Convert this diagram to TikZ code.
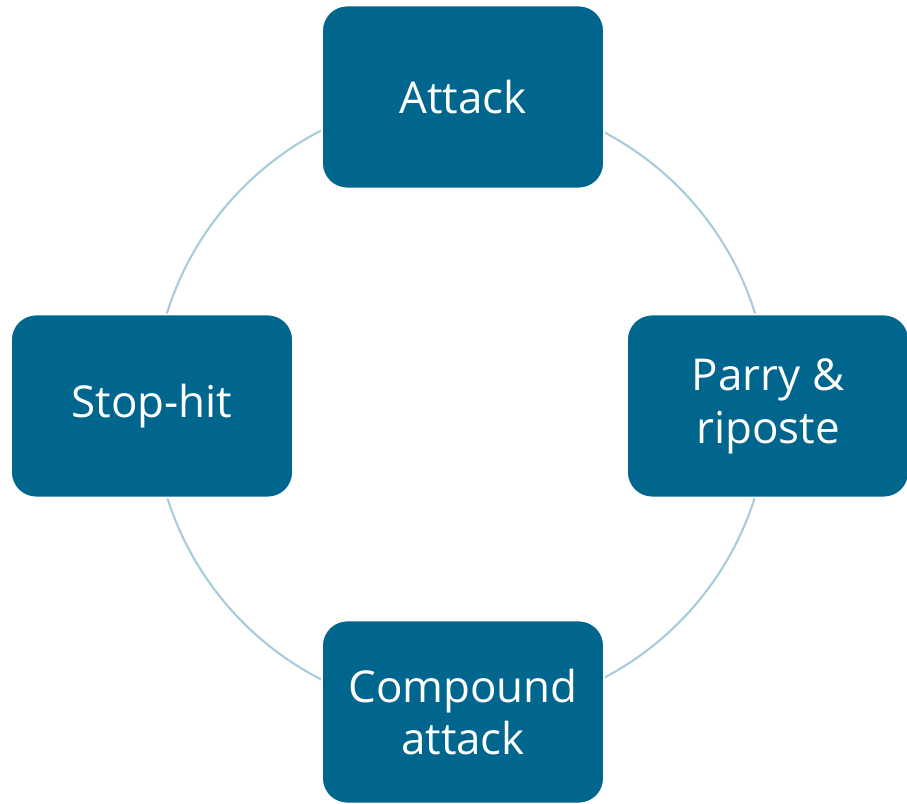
\documentclass[tikz,border=0pt]{standalone}
\usepackage{fontspec}
\setmainfont{Open Sans}
\definecolor{boxblue}{HTML}{00668E}
\definecolor{ringblue}{HTML}{A8CCDC}
\begin{document}
\begin{tikzpicture}[x=0.02cm,y=-0.02cm,
  stage/.style={fill=boxblue, draw=white, line width=1pt, rounded corners=0.5cm,
    text=white, align=center, font=\fontsize{25}{30}\selectfont,
    minimum width=5.64cm, minimum height=3.66cm, inner sep=0pt}]
\useasboundingbox (0,0) rectangle (907,804);
\coordinate (ctr) at (461,405);
\draw[ringblue, line width=1.2pt] (ctr) circle[radius=6.16cm];
\node[stage] (attack) at (463,97) {Attack};
\node[stage] (parry) at (768,406) {Parry \&\\riposte};
\node[stage] (stop) at (152,406) {Stop-hit};
\node[stage] (compound) at (463,712) {Compound\\attack};
\end{tikzpicture}
\end{document}
